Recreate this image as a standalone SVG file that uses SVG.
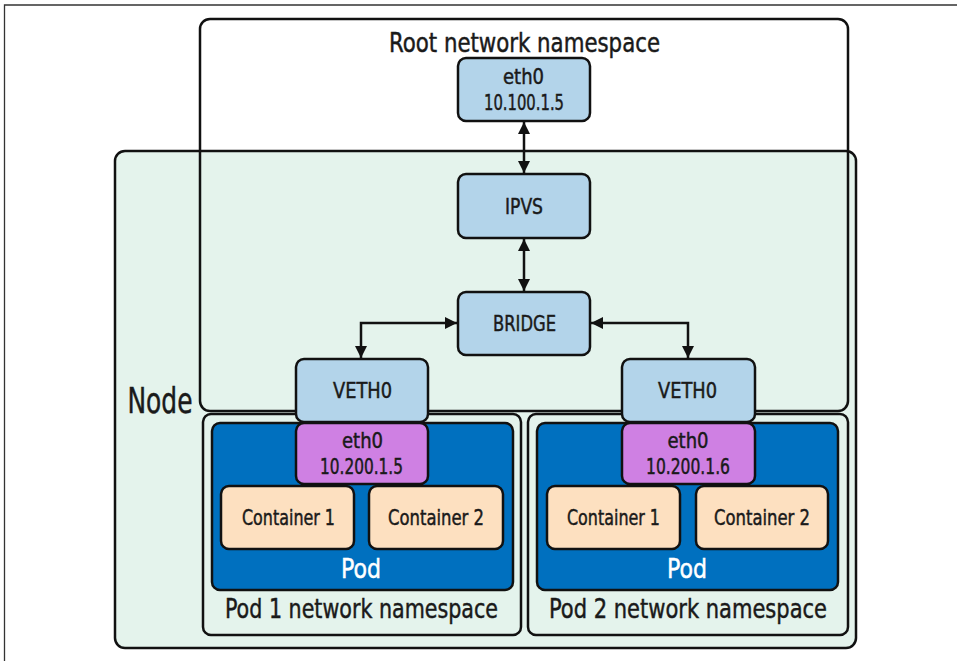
<svg xmlns="http://www.w3.org/2000/svg" width="957" height="661" viewBox="0 0 957 661">
<style>
  text { font-family: "DejaVu Sans Condensed", "DejaVu Sans", "Liberation Sans", sans-serif; font-stretch: condensed; fill: #1a1a1a; stroke: #1a1a1a; stroke-width: 0.45; text-anchor: middle; }
  .box { stroke: #111; stroke-width: 2.5; }
  .blue { fill: #b3d4ea; }
  .purple { fill: #cf80e3; }
  .peach { fill: #fde0c0; }
  .pod { fill: #0070bf; }
  .ns { fill: #e4f3ec; stroke: #111; stroke-width: 2.5; }
  .lbl { font-size: 21px; }
  .title { font-size: 27px; }
  .white { fill: #fff; stroke: #fff; }
  .conn { stroke: #111; stroke-width: 2.5; fill: none; marker-start: url(#ah); marker-end: url(#ah); }
</style>
<defs>
  <marker id="ah" viewBox="0 0 10 10" refX="10" refY="5" markerWidth="12" markerHeight="12" markerUnits="userSpaceOnUse" orient="auto-start-reverse">
    <path d="M0,0 L10,5 L0,10 Z" fill="#111"/>
  </marker>
</defs>
<rect width="957" height="661" fill="#fff"/>
<path d="M4.5,661 V5 H957" fill="none" stroke="#333" stroke-width="1.3"/>

<g id="node">
  <rect class="ns" x="115" y="151" width="741" height="497" rx="10"/>
  <text x="160" y="413" style="font-size:35px" textLength="65" lengthAdjust="spacingAndGlyphs">Node</text>
</g>
<g id="root-ns">
  <rect x="200" y="19" width="648" height="392" rx="10" fill="none" stroke="#111" stroke-width="2.5"/>
  <text class="title" x="524.5" y="52" textLength="271" lengthAdjust="spacingAndGlyphs">Root network namespace</text>
</g>

<g id="pod1-ns">
  <rect class="ns" x="203" y="414" width="318" height="221" rx="8"/>
  <text class="title" x="361.5" y="618" textLength="273" lengthAdjust="spacingAndGlyphs">Pod 1 network namespace</text>
</g>
<g id="pod2-ns">
  <rect class="ns" x="528" y="414" width="320" height="221" rx="8"/>
  <text class="title" x="688" y="618" textLength="278" lengthAdjust="spacingAndGlyphs">Pod 2 network namespace</text>
</g>
<g id="pod1">
  <rect class="box pod" x="212" y="423" width="301" height="167" rx="8"/>
  <text class="title white" x="361" y="578" textLength="40" lengthAdjust="spacingAndGlyphs">Pod</text>
</g>
<g id="pod2">
  <rect class="box pod" x="537" y="423" width="301" height="167" rx="8"/>
  <text class="title white" x="687" y="578" textLength="40" lengthAdjust="spacingAndGlyphs">Pod</text>
</g>

<g id="connectors">
  <line class="conn" x1="524" y1="122" x2="524" y2="173"/>
  <line class="conn" x1="524" y1="239" x2="524" y2="291"/>
  <polyline class="conn" points="457,323 361,323 361,358"/>
  <polyline class="conn" points="591,323 688,323 688,358"/>
</g>

<g id="eth0-root">
  <rect class="box blue" x="458" y="58" width="132" height="63" rx="8"/>
  <text class="lbl" x="523.5" y="84" textLength="41" lengthAdjust="spacingAndGlyphs">eth0</text>
  <text class="lbl" x="524" y="110" textLength="80" lengthAdjust="spacingAndGlyphs">10.100.1.5</text>
</g>
<g id="ipvs">
  <rect class="box blue" x="458" y="174" width="132" height="64" rx="8"/>
  <text class="lbl" x="524" y="214" textLength="38" lengthAdjust="spacingAndGlyphs">IPVS</text>
</g>
<g id="bridge">
  <rect class="box blue" x="458" y="292" width="132" height="63" rx="8"/>
  <text class="lbl" x="524.5" y="331" textLength="63" lengthAdjust="spacingAndGlyphs">BRIDGE</text>
</g>
<g id="veth0-1">
  <rect class="box blue" x="296" y="359" width="132" height="63" rx="8"/>
  <text class="lbl" x="362.5" y="398" textLength="59" lengthAdjust="spacingAndGlyphs">VETH0</text>
</g>
<g id="veth0-2">
  <rect class="box blue" x="622" y="359" width="133" height="63" rx="8"/>
  <text class="lbl" x="687.5" y="398" textLength="59" lengthAdjust="spacingAndGlyphs">VETH0</text>
</g>
<g id="eth0-pod1">
  <rect class="box purple" x="296" y="423" width="132" height="61" rx="8"/>
  <text class="lbl" x="362.5" y="448" textLength="41" lengthAdjust="spacingAndGlyphs">eth0</text>
  <text class="lbl" x="361.5" y="474" textLength="83" lengthAdjust="spacingAndGlyphs">10.200.1.5</text>
</g>
<g id="eth0-pod2">
  <rect class="box purple" x="622" y="423" width="133" height="61" rx="8"/>
  <text class="lbl" x="688" y="448" textLength="41" lengthAdjust="spacingAndGlyphs">eth0</text>
  <text class="lbl" x="688" y="474" textLength="84" lengthAdjust="spacingAndGlyphs">10.200.1.6</text>
</g>
<g id="pod1-c1">
  <rect class="box peach" x="221" y="486" width="133" height="63" rx="8"/>
  <text class="lbl" x="288.5" y="525" textLength="93" lengthAdjust="spacingAndGlyphs">Container 1</text>
</g>
<g id="pod1-c2">
  <rect class="box peach" x="369" y="486" width="134" height="63" rx="8"/>
  <text class="lbl" x="436" y="525" textLength="96" lengthAdjust="spacingAndGlyphs">Container 2</text>
</g>
<g id="pod2-c1">
  <rect class="box peach" x="547" y="486" width="133" height="63" rx="8"/>
  <text class="lbl" x="613.5" y="525" textLength="93" lengthAdjust="spacingAndGlyphs">Container 1</text>
</g>
<g id="pod2-c2">
  <rect class="box peach" x="696" y="486" width="132" height="63" rx="8"/>
  <text class="lbl" x="762" y="525" textLength="96" lengthAdjust="spacingAndGlyphs">Container 2</text>
</g>
</svg>
